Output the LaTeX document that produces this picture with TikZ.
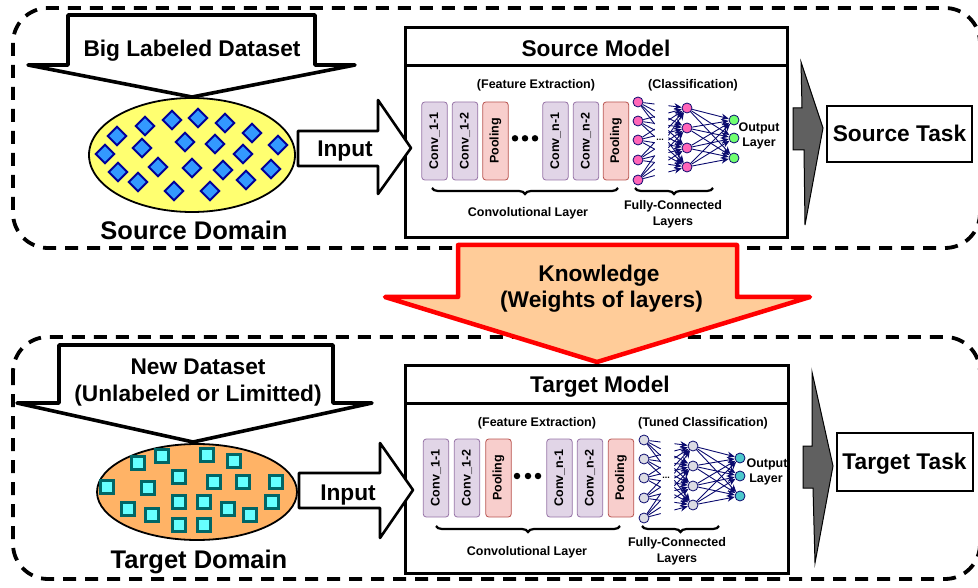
\documentclass[tikz,border=0pt]{standalone}
\usepackage{fontspec}
\setmainfont{Liberation Sans}
\usetikzlibrary{calc,arrows.meta,decorations.pathreplacing,shapes.geometric}

\definecolor{convfill}{HTML}{E1D5E7}
\definecolor{convline}{HTML}{9673A6}
\definecolor{poolfill}{HTML}{F8CECC}
\definecolor{poolline}{HTML}{B85450}
\definecolor{netblue}{HTML}{0A0A6E}
\definecolor{pinknode}{HTML}{FF66B8}
\definecolor{greennode}{HTML}{70FF70}
\definecolor{graynode}{HTML}{DCDCE4}
\definecolor{tealnode}{HTML}{4CC8CC}
\definecolor{srcyellow}{HTML}{FFFF70}
\definecolor{tgtorange}{HTML}{FFB366}
\definecolor{diamfill}{HTML}{3399FF}
\definecolor{diamline}{HTML}{000099}
\definecolor{sqfill}{HTML}{66FFFF}
\definecolor{sqline}{HTML}{006666}
\definecolor{knowfill}{HTML}{FFCC99}
\definecolor{knowline}{HTML}{FF0000}
\definecolor{taskgray}{HTML}{606060}

\tikzset{
  region/.style={draw=black, line width=3.8pt, dash pattern=on 13pt off 9pt, rounded corners=35pt},
  fatarrow/.style={draw=black, fill=white, line width=3.6pt, line join=round},
  inarrow/.style={draw=black, fill=white, line width=2.6pt, line join=round},
  frame/.style={draw=black, line width=3pt},
  taskbox/.style={draw=black, line width=2.6pt, fill=white},
  bigtxt/.style={font=\fontsize{22.7}{27}\selectfont\bfseries, inner sep=0pt, anchor=base},
  domtxt/.style={font=\fontsize{25.5}{30}\selectfont\bfseries, inner sep=0pt, anchor=base},
  smalltxt/.style={font=\fontsize{12.5}{15}\selectfont\bfseries, inner sep=0pt, anchor=base},
  layerbox/.style={rectangle, rounded corners=3pt, minimum width=78pt, minimum height=25.5pt,
    inner sep=0pt, line width=0.8pt, rotate=90, font=\fontsize{12.5}{15}\selectfont\bfseries},
  conv/.style={layerbox, fill=convfill, draw=convline},
  pool/.style={layerbox, fill=poolfill, draw=poolline},
  neuron/.style={circle, minimum size=10pt, inner sep=0pt, draw=netblue, line width=0.8pt},
  netedge/.style={draw=netblue, line width=0.9pt},
  netarrow/.style={netedge, -{Stealth[length=7.5pt,width=6.5pt]}},
  lbrace/.style={decorate, decoration={brace, mirror, amplitude=6pt}, line width=2.2pt},
  diam/.style={rectangle, rotate=45, minimum size=13pt, inner sep=0pt, fill=diamfill, draw=diamline, line width=2pt},
  sq/.style={rectangle, minimum size=13pt, inner sep=0pt, fill=sqfill, draw=sqline, line width=2.4pt},
  bigdot/.style={circle, fill=black, minimum size=6.5pt, inner sep=0pt},
}

% fully connected block: #1 name prefix, #2 hidden fill, #3 output fill
\newcommand\fcblock[3]{%
  \foreach \i/\y in {1/102,2/121,3/140,4/160,5/180}
    \node[neuron, fill=#2] (#1i\i) at (638,\y) {};
  \foreach \j/\y in {1/108,2/128,3/148,4/167}
    \node[neuron, fill=#2] (#1h\j) at (687,\y) {};
  \foreach \k/\y in {1/120,2/138,3/158}
    \node[neuron, fill=#3] (#1o\k) at (734,\y) {};
  \foreach \i in {1,...,5}{
    \foreach \j in {1,...,4}{
      \draw[netedge] (#1i\i) -- ($(#1i\i)!0.34!(#1h\j)$);
      \draw[netarrow] ($(#1i\i)!0.62!(#1h\j)$) -- (#1h\j);
    }
  }
  \foreach \j in {1,...,4}
    \foreach \k in {1,...,3}
      \draw[netarrow] (#1h\j) -- (#1o\k);
  \node[font=\fontsize{9}{10}\selectfont\bfseries, inner sep=0pt] (#1gap) at (660,140) {...};
}

\begin{document}
\begin{tikzpicture}[x=1pt, y=-1pt]
\useasboundingbox (0,0) rectangle (978,588);

% dashed domain regions
\draw[region] (13,8) rectangle (980,248);
\draw[region] (13,337) rectangle (980,579);

% ---------------- source side ----------------
\draw[fatarrow] (68,15) -- (315,15) -- (315,65) -- (355,65) -- (192,97)
  -- (28,65) -- (68,65) -- cycle;
\node[bigtxt] (bigdata) at (192,57) {Big Labeled Dataset};

\node[ellipse, draw=black, line width=1.8pt, fill=srcyellow,
      minimum width=206pt, minimum height=114pt] (sdomain) at (192,155) {};
\foreach \p [count=\n] in {(117,136),(145,126),(172,120),(198,118),(225,123),(252,133),
    (278,145),(105,154),(142,148),(185,142),(215,144),(243,154),(118,172),(158,167),
    (192,168),(223,170),(271,169),(138,182),(174,191),(210,191),(246,180)}
  \node[diam] (d\n) at \p {};
\node[domtxt] (sdomlabel) at (194,240) {Source Domain};

% source model
\draw[frame] (405,28) rectangle (787,238);
\draw[frame] (405,66) -- (787,66);
\node[bigtxt] (smodel) at (596,57) {Source Model};

\draw[inarrow] (298,131) -- (378,131) -- (378,100) -- (411,148) -- (378,194)
  -- (378,166) -- (298,166) -- cycle;
\node[bigtxt] (sinput) at (345,157) {Input};

\node[smalltxt] (sfeat) at (536,88.4) {(Feature Extraction)};
\node[smalltxt] (sclass) at (693,88.4) {(Classification)};

\node[conv] (sc11) at (434.5,141) {Conv\_1-1};
\node[conv] (sc12) at (465,141) {Conv\_1-2};
\node[pool] (sp1) at (495.5,141) {Pooling};
\node[bigdot] (sdot1) at (515,138.3) {};
\node[bigdot] (sdot2) at (525,138.3) {};
\node[bigdot] (sdot3) at (535,138.3) {};
\node[conv] (scn1) at (555.5,141) {Conv\_n-1};
\node[conv] (scn2) at (586,141) {Conv\_n-2};
\node[pool] (sp2) at (616,141) {Pooling};

\fcblock{s}{pinknode}{greennode}
\node[smalltxt] (sout1) at (759,131.5) {Output};
\node[smalltxt] (sout2) at (759,146.5) {Layer};

\draw[lbrace] (432,188) -- (618,188);
\draw[lbrace] (635,188) -- (713,188);
\node[smalltxt] (sconvlab) at (528,216.5) {Convolutional Layer};
\node[smalltxt] (sfclab1) at (673,209.5) {Fully-Connected};
\node[smalltxt] (sfclab2) at (673,225.5) {Layers};

% source task
\draw[fill=taskgray, draw=black, line width=1pt] (801,62) -- (823,128) -- (805,225)
  -- (804,150) -- (793,150) -- (793,108) -- (802,108) -- cycle;
\draw[taskbox] (827,106) rectangle (972,162);
\node[bigtxt] (stask) at (899.5,141.5) {Source Task};

% ---------------- knowledge transfer ----------------
\draw[draw=knowline, fill=knowfill, line width=4.5pt, line join=round]
  (458,245) -- (737,245) -- (737,297) -- (810,297) -- (597,362) -- (385,297)
  -- (458,297) -- cycle;
\node[bigtxt] (know1) at (599,281.7) {Knowledge};
\node[bigtxt] (know2) at (601.5,308) {(Weights of layers)};

% ---------------- target side ----------------
\draw[fatarrow] (59,345) -- (333,345) -- (333,403) -- (372,403) -- (193,442)
  -- (17,403) -- (59,403) -- cycle;
\node[bigtxt] (newdata1) at (198,374) {New Dataset};
\node[bigtxt] (newdata2) at (198,401.7) {(Unlabeled or Limitted)};

\node[ellipse, draw=black, line width=1.8pt, fill=tgtorange,
      minimum width=200pt, minimum height=96pt] (tdomain) at (197,492) {};
\foreach \p [count=\n] in {(138,463),(162,456),(207,455),(234,461),(179,477),(214,482),
    (243,482),(276,482),(107,487),(148,488),(179,502),(204,502),(128,509),(152,515),
    (228,509),(250,515),(272,502),(179,525),(204,525)}
  \node[sq] (q\n) at \p {};
\node[domtxt] (tdomlabel) at (199,568) {Target Domain};

% target model
\draw[frame] (405,365) rectangle (788,573);
\draw[frame] (405,403) -- (788,403);
\node[bigtxt] (tmodel) at (600,392) {Target Model};

\draw[inarrow] (299,473) -- (380,473) -- (380,443) -- (413,490) -- (380,538)
  -- (380,508) -- (299,508) -- cycle;
\node[bigtxt] (tinput) at (348,500) {Input};

\node[smalltxt] (tfeat) at (537,426.5) {(Feature Extraction)};
\node[smalltxt] (tclass) at (703,426.5) {(Tuned Classification)};

\node[conv] (tc11) at (436,478) {Conv\_1-1};
\node[conv] (tc12) at (467,478) {Conv\_1-2};
\node[pool] (tp1) at (498.5,478) {Pooling};
\node[bigdot] (tdot1) at (517,476) {};
\node[bigdot] (tdot2) at (528,476) {};
\node[bigdot] (tdot3) at (538,476) {};
\node[conv] (tcn1) at (559.5,478) {Conv\_n-1};
\node[conv] (tcn2) at (590,478) {Conv\_n-2};
\node[pool] (tp2) at (621,478) {Pooling};

\begin{scope}[shift={(6,338)}]
  \fcblock{t}{graynode}{tealnode}
\end{scope}
\node[smalltxt] (tout1) at (767,467) {Output};
\node[smalltxt] (tout2) at (766,482) {Layer};

\draw[lbrace] (436,526) -- (620,526);
\draw[lbrace] (642,526) -- (719,526);
\node[smalltxt] (tconvlab) at (527,555) {Convolutional Layer};
\node[smalltxt] (tfclab1) at (677,546.5) {Fully-Connected};
\node[smalltxt] (tfclab2) at (677,562) {Layers};

% target task
\draw[fill=taskgray, draw=black, line width=1pt] (812,372) -- (833,466) -- (815,563)
  -- (813,488) -- (803,488) -- (803,446) -- (812,446) -- cycle;
\draw[taskbox] (837,433) rectangle (973,491);
\node[bigtxt] (ttask) at (904.5,469) {Target Task};
\end{tikzpicture}
\end{document}
